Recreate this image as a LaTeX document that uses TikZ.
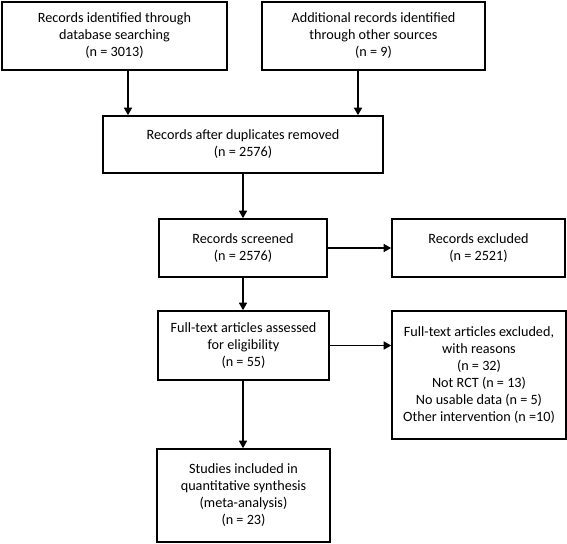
\documentclass[tikz,border=0pt]{standalone}
\usepackage{fontspec}
\setmainfont{Carlito}
\usetikzlibrary{arrows.meta}
\begin{document}
\begin{tikzpicture}[x=1pt,y=-1pt,
  box/.style={draw=black,line width=1.6pt,fill=white,align=center,inner sep=2pt,
    font=\fontsize{14.2}{17}\selectfont},
  arr/.style={line width=1.6pt,-{Triangle[length=7.5pt,width=8pt]}}]
\useasboundingbox (0,0) rectangle (567,543);
\node[box,minimum width=225pt,minimum height=68pt] (b1) at (114.5,36)
  {Records identified through\\database searching\\(n = 3013)};
\node[box,minimum width=223pt,minimum height=68pt] (b2) at (373.5,36)
  {Additional records identified\\through other sources\\(n = 9)};
\node[box,minimum width=280pt,minimum height=57pt] (b3) at (243,144.5)
  {Records after duplicates removed\\(n = 2576)};
\node[box,minimum width=168pt,minimum height=58pt] (scr) at (243,248)
  {Records screened\\(n = 2576)};
\node[box,minimum width=173pt,minimum height=58pt] (exc) at (478.5,248)
  {Records excluded\\(n = 2521)};
\node[box,minimum width=171pt,minimum height=69pt] (ft) at (243.5,345.5)
  {Full-text articles assessed\\for eligibility\\(n = 55)};
\node[box,minimum width=174pt,minimum height=128pt] (rs) at (479,375)
  {Full-text articles excluded,\\with reasons\\(n = 32)\\Not RCT (n = 13)\\No usable data (n = 5)\\Other intervention (n =10)};
\node[box,minimum width=173pt,minimum height=93pt] (st) at (243.5,495.5)
  {Studies included in\\quantitative synthesis\\(meta-analysis)\\(n = 23)};
\coordinate (c1) at (128,0);
\coordinate (c2) at (358,0);
\draw[arr] (b1.south -| c1) -- (b3.north -| c1);
\draw[arr] (b2.south -| c2) -- (b3.north -| c2);
\draw[arr] (b3.south -| scr) -- (scr.north);
\draw[arr] (scr.east) -- (exc.west);
\draw[arr] (scr.south) -- (scr.south |- ft.north);
\draw[arr] (ft.east) -- (ft.east -| rs.west);
\draw[arr] (ft.south -| scr) -- (st.north -| scr);
\end{tikzpicture}
\end{document}
